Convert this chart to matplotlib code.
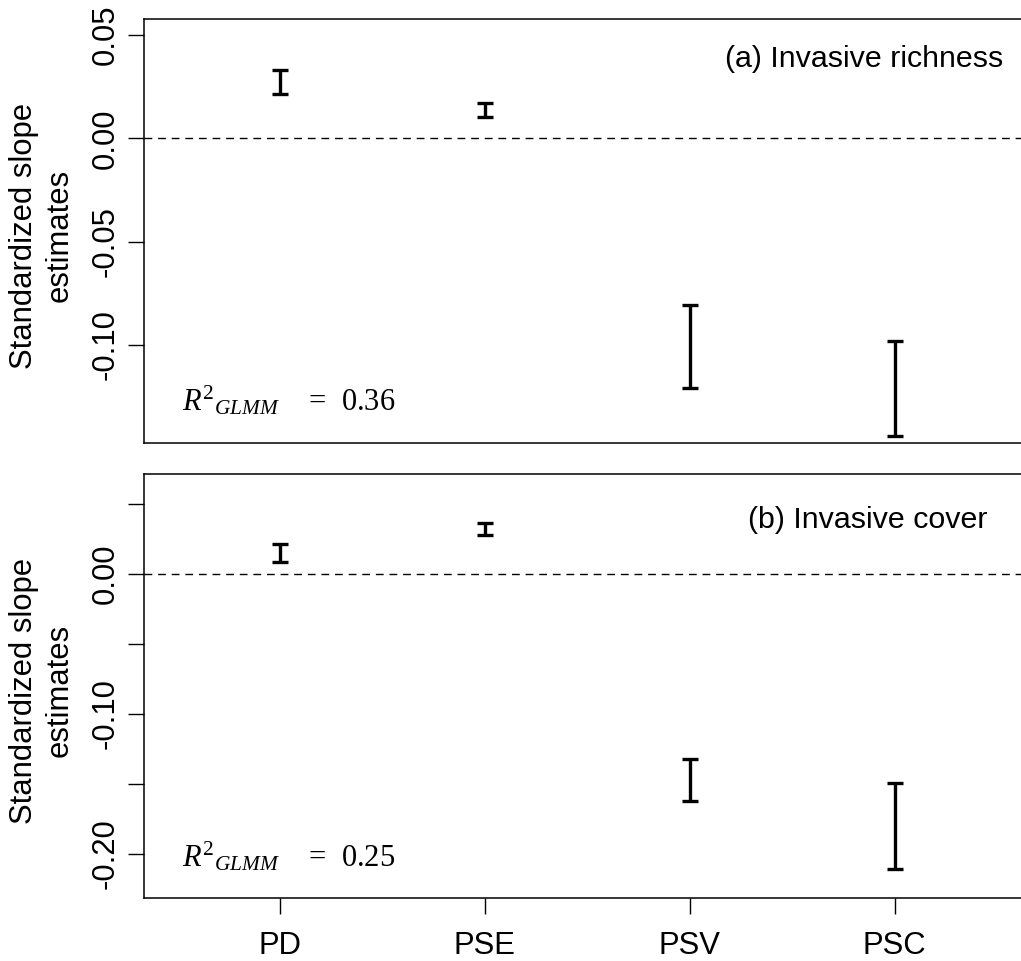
import matplotlib
matplotlib.use("Agg")
import matplotlib.pyplot as plt
import numpy as np

plt.rcParams['font.family'] = ['Liberation Sans', 'DejaVu Sans']
plt.rcParams['mathtext.fontset'] = 'custom'
plt.rcParams['mathtext.rm'] = 'Liberation Serif'
plt.rcParams['mathtext.it'] = 'Liberation Serif:italic'

# ---- data ----
categories = ["PD", "PSE", "PSV", "PSC"]
positions = [1, 2, 3, 4]

rich_lower = [0.0215, 0.0105, -0.1210, -0.1439]
rich_upper = [0.0331, 0.0171, -0.0806, -0.0983]

cover_lower = [0.0086, 0.0278, -0.1619, -0.2106]
cover_upper = [0.0217, 0.0364, -0.1322, -0.1495]

rich_ticks = [0.05, 0.00, -0.05, -0.10]
rich_ticklabels = ["0.05", "0.00", "-0.05", "-0.10"]
cover_ticks = [0.05, 0.00, -0.05, -0.10, -0.15, -0.20]
cover_ticklabels = ["", "0.00", "", "-0.10", "", "-0.20"]

r2_rich = "0.36"
r2_cover = "0.25"
title_rich = "(a) Invasive richness"
title_cover = "(b) Invasive cover"
ylabel = "Standardized slope\nestimates"

W, H = 1021, 961
fig = plt.figure(figsize=(W / 100, H / 100), dpi=100)

FS = 22.3
FS_T = 21.9
FS_R2 = 22.0
left = 144.3 / W
width = (1030 - 144.3) / W
ax1 = fig.add_axes([left, (H - 443.3) / H, width, 424.0 / H])
ax2 = fig.add_axes([left, (H - 897.7) / H, width, 423.4 / H])


def draw(ax, lower, upper, ylim, ticks, ticklabels, title, tx, ty, r2, r2y, show_x):
    lower = np.array(lower)
    upper = np.array(upper)
    mid = (lower + upper) / 2
    half = (upper - lower) / 2
    ax.errorbar(positions, mid, yerr=half, fmt='none', ecolor='black',
                elinewidth=2.4, capsize=6.0, capthick=2.4)
    ax.axhline(0, color='black', lw=1.0, dashes=(5.6, 4.2))
    ax.set_xlim(0.34, 4.66)
    ax.set_ylim(*ylim)
    ax.set_yticks(ticks)
    ax.set_yticklabels(ticklabels, rotation=90, va='center', fontsize=FS)
    ax.tick_params(axis='y', length=11.8, width=1.0, pad=5.5)
    if show_x:
        ax.set_xticks(positions)
        ax.set_xticklabels(categories, fontsize=FS)
        ax.tick_params(axis='x', length=11.3, width=1.0, pad=13)
    else:
        ax.set_xticks([])
    for s in ax.spines.values():
        s.set_linewidth(1.1)
        s.set_color('black')
    ax.text(tx, ty, title, transform=ax.transAxes, ha='right', va='baseline', fontsize=FS_T)
    ax.text(0.0427, r2y, r'$R^{2}{}_{GLMM}$' + '    =  ' + r2, transform=ax.transAxes,
            ha='left', va='baseline', fontsize=FS_R2, family='Liberation Serif')


draw(ax1, rich_lower, rich_upper, (-0.1476, 0.0576), rich_ticks, rich_ticklabels,
     title_rich, 0.9695, 0.888, r2_rich, 0.0769, False)
draw(ax2, cover_lower, cover_upper, (-0.2312, 0.0712), cover_ticks, cover_ticklabels,
     title_cover, 0.9515, 0.8725, r2_cover, 0.0732, True)

fig.text(41.7 / W, 1 - 235.5 / H, ylabel, rotation=90, ha='center', va='center',
         multialignment='center', fontsize=FS, linespacing=1.25)
fig.text(41.7 / W, 1 - 690.5 / H, ylabel, rotation=90, ha='center', va='center',
         multialignment='center', fontsize=FS, linespacing=1.25)

fig.savefig("out.png", dpi=100)
